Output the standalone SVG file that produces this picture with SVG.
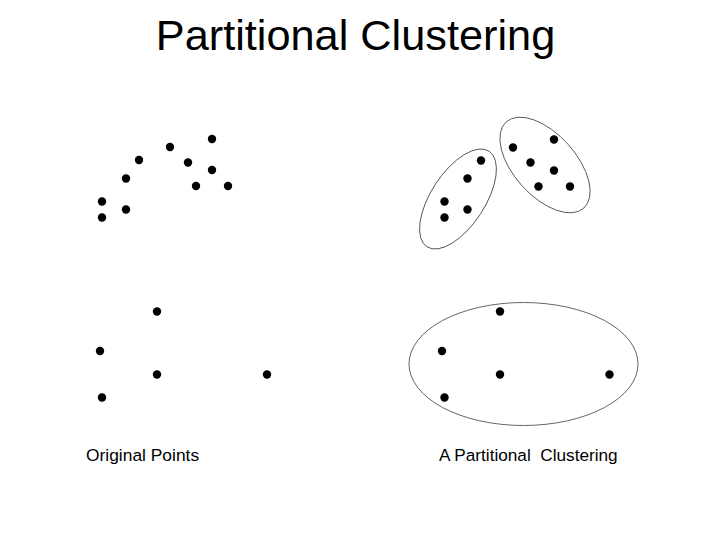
<svg xmlns="http://www.w3.org/2000/svg" width="720" height="540" viewBox="0 0 720 540">
<style>
text{font-family:"Liberation Sans",Arial,sans-serif;fill:#000;white-space:pre}
.d{fill:#000}
.e{fill:none;stroke:#555;stroke-width:0.9}
</style>
<rect width="720" height="540" fill="#fff"/>
<text x="355.5" y="50" font-size="43.3" text-anchor="middle">Partitional Clustering</text>
<g id="original-points">
<circle class="d" cx="212" cy="139" r="4.2"/>
<circle class="d" cx="170" cy="147" r="4.2"/>
<circle class="d" cx="139" cy="160" r="4.2"/>
<circle class="d" cx="188" cy="162.5" r="4.2"/>
<circle class="d" cx="212" cy="170" r="4.2"/>
<circle class="d" cx="126" cy="178.5" r="4.2"/>
<circle class="d" cx="196" cy="186" r="4.2"/>
<circle class="d" cx="228" cy="186" r="4.2"/>
<circle class="d" cx="102" cy="201.5" r="4.2"/>
<circle class="d" cx="126" cy="209.5" r="4.2"/>
<circle class="d" cx="102" cy="217.5" r="4.2"/>
<circle class="d" cx="157" cy="311.5" r="4.2"/>
<circle class="d" cx="100" cy="351" r="4.2"/>
<circle class="d" cx="157" cy="374.5" r="4.2"/>
<circle class="d" cx="267" cy="374.5" r="4.2"/>
<circle class="d" cx="102" cy="397.5" r="4.2"/>
</g>
<g id="cluster-1">
<ellipse class="e" cx="458" cy="199" rx="57" ry="27" transform="rotate(-57 458 199)"/>
<circle class="d" cx="481" cy="160.5" r="4.2"/>
<circle class="d" cx="467.5" cy="178.5" r="4.2"/>
<circle class="d" cx="444.5" cy="201.5" r="4.2"/>
<circle class="d" cx="467.5" cy="209.5" r="4.2"/>
<circle class="d" cx="444.5" cy="217.5" r="4.2"/>
</g>
<g id="cluster-2">
<ellipse class="e" cx="545" cy="165" rx="58" ry="31" transform="rotate(48 545 165)"/>
<circle class="d" cx="554" cy="139.5" r="4.2"/>
<circle class="d" cx="513" cy="147.5" r="4.2"/>
<circle class="d" cx="530.5" cy="162.5" r="4.2"/>
<circle class="d" cx="554" cy="170.5" r="4.2"/>
<circle class="d" cx="538.5" cy="186.5" r="4.2"/>
<circle class="d" cx="570" cy="186.5" r="4.2"/>
</g>
<g id="cluster-3">
<ellipse class="e" cx="523.5" cy="364" rx="114.5" ry="61.5"/>
<circle class="d" cx="500" cy="311.5" r="4.2"/>
<circle class="d" cx="442" cy="351" r="4.2"/>
<circle class="d" cx="500" cy="374.5" r="4.2"/>
<circle class="d" cx="609.5" cy="374.5" r="4.2"/>
<circle class="d" cx="444.5" cy="397.5" r="4.2"/>
</g>
<text x="86" y="461" font-size="17.4">Original Points</text>
<text x="439" y="461" font-size="17.2">A Partitional  Clustering</text>
</svg>
